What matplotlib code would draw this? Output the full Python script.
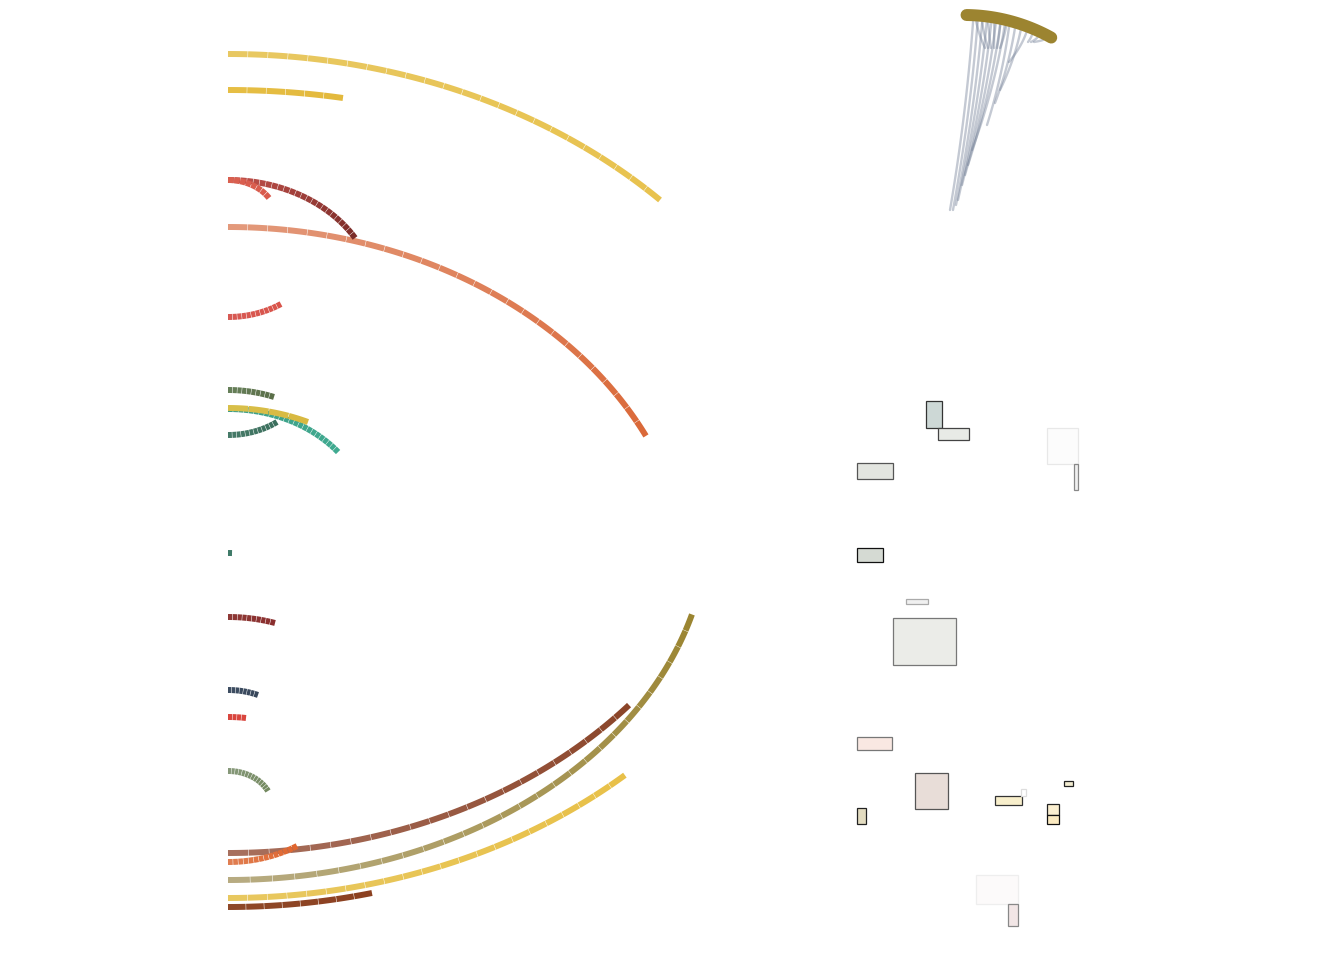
import numpy as np
import matplotlib
matplotlib.use('Agg')
import matplotlib.pyplot as plt
from matplotlib.collections import LineCollection
from matplotlib.patches import Rectangle
from matplotlib.colors import to_rgba

# left arcs: start row, horizontal radius, vertical/horizontal ratio, sweep (deg), bend (+1 down / -1 up)
arc_y0 = [54, 90, 227, 180, 180, 317, 390, 409, 408, 435, 553, 617, 690, 717, 771,
          853, 862, 880, 898, 907]
arc_a = [602.6, 666, 465, 147.6, 48.6, 94.5, 125.5, 139.5, 191.4, 82, 115, 151.3, 75.2,
         130.3, 44.5, 527.4, 129.1, 481, 589.7, 601]
arc_k = [0.8, 0.8, 0.8, 0.8, 0.8, 0.8, 0.8, 0.8, 0.8, 0.8, 0.8, 0.8, 0.8, 0.8, 0.8,
         0.8, 0.8, 0.75, 0.8, 0.8]
arc_sweep = [45.8, 9.94, 64.0, 59.4, 57.5, 34.1, 21.5, 52.1, 24.7, 36.7, 2.0, 18.1, 23.5,
             7.94, 64.0, 49.5, 32.3, 74.7, 42.3, 13.86]
arc_bend = [1, 1, 1, 1, 1, -1, 1, 1, 1, -1, 1, 1, 1, 1, 1, -1, -1, -1, -1, -1]
arc_c0 = ['#E8C862', '#E6BE45', '#E39A7C', '#C4524C', '#D96050', '#D75A54', '#67805A',
          '#3E9E86', '#D8C04A', '#477A68', '#3F7A68', '#8E3A36', '#3E4E62', '#D9463E',
          '#87997A', '#A8705E', '#E07F52', '#B8AC82', '#E8C860', '#8E4828']
arc_c1 = ['#E8C24E', '#E3B93C', '#DA6838', '#7A2C28', '#D95A4C', '#D9544A', '#5A6E48',
          '#3FAA90', '#D8B840', '#3A6E5C', '#3F7A68', '#8A2E2E', '#38465A', '#D9463E',
          '#72885E', '#8A4428', '#E0652E', '#9A8430', '#E8C048', '#8C4020']
arc_nseg = [24, 6, 26, 24, 8, 12, 10, 24, 4, 12, 1, 10, 8, 4, 14, 22, 14, 28, 22, 8]
x0 = 228

# fan (top right)
fan_cx, fan_cy, fan_r = 964, 195, 180
fan_a0, fan_a1 = 0.8, 29.0
fan_start_deg = [3, 4.5, 6, 7.5, 9, 10.5, 12, 13.5, 15, 17, 19, 21, 4, 6, 8, 10, 12, 14,
                 23, 25, 27]
fan_end_x = [950, 953, 956, 958, 962, 965, 968, 972, 987, 995, 1000, 1009, 985, 988, 991,
             994, 997, 1000, 1028, 1031, 1034]
fan_end_y = [210, 210, 205, 200, 185, 175, 165, 150, 125, 103, 90, 62, 48, 48, 48, 48, 48,
             48, 42, 42, 42]

# rectangles on the right
rect_x = [926, 938, 1047, 1074, 857, 857, 906, 893, 857, 915, 857, 995, 1021, 1064, 1047,
          1047, 976, 1008]
rect_y = [401, 428, 428, 464, 463, 548, 599, 618, 737, 773, 808, 796, 789, 781, 804, 815,
          875, 904]
rect_w = [16, 31, 31, 4, 36, 26, 22, 63, 35, 33, 9, 27, 5, 9, 12, 12, 42, 10]
rect_h = [27, 12, 36, 26, 16, 14, 5, 47, 13, 36, 16, 9, 7, 5, 11, 9, 29, 22]
rect_face = ['#CDD8D6', '#E8EAE6', '#FCFCFC', '#F0F0F0', '#E3E5E0', '#D5DAD3', '#F0F0F0',
             '#EBECE8', '#F9E8E2', '#E8DDD8', '#E3DCC0', '#F8EFCC', '#FFFFFF', '#F2ECD0',
             '#FBEFD0', '#FBEAC0', '#FCFAFA', '#F2E6E6']
rect_edge = ['#333333', '#444444', '#E8E8E8', '#888888', '#555555', '#111111', '#AAAAAA',
             '#777777', '#777777', '#555555', '#222222', '#333333', '#DDDDDD', '#222222',
             '#222222', '#111111', '#EEEEEE', '#888888']

fig = plt.figure(figsize=(13.44, 9.6), dpi=100)
ax = fig.add_axes([0, 0, 1, 1])
ax.set_xlim(0, 1344)
ax.set_ylim(960, 0)
ax.axis('off')

gap = 0.5
for y0, a, k, sw, b, c0, c1, n in zip(arc_y0, arc_a, arc_k, arc_sweep, arc_bend,
                                      arc_c0, arc_c1, arc_nseg):
    th = np.radians(sw)
    edges = np.linspace(0, th, n + 1)
    g = gap / a if n > 1 else 0
    segs, cols = [], []
    ca, cb = np.array(to_rgba(c0)), np.array(to_rgba(c1))
    for i in range(n):
        t = np.linspace(edges[i], edges[i + 1] - (g if i < n - 1 else 0), 8)
        xs = x0 + a * np.sin(t)
        ys = y0 + b * k * a * (1 - np.cos(t))
        segs.append(np.column_stack([xs, ys]))
        f = (i + 0.5) / n
        cols.append(ca * (1 - f) + cb * f)
    ax.add_collection(LineCollection(segs, colors=cols, linewidths=4.3, capstyle='butt'))

# fan lines
for ang, ex, ey in zip(fan_start_deg, fan_end_x, fan_end_y):
    ar = np.radians(ang)
    sx = fan_cx + (fan_r - 6) * np.sin(ar)
    sy = fan_cy - (fan_r - 6) * np.cos(ar)
    qx = sx + 0.3 * (ex - sx)
    qy = sy + 0.5 * (ey - sy)
    t = np.linspace(0, 1, 30)
    bx = (1 - t) ** 2 * sx + 2 * (1 - t) * t * qx + t ** 2 * ex
    by = (1 - t) ** 2 * sy + 2 * (1 - t) * t * qy + t ** 2 * ey
    ax.plot(bx, by, color='#738097', alpha=0.42, lw=1.7, solid_capstyle='round')

ta = np.radians(np.linspace(fan_a0, fan_a1, 60))
ax.plot(fan_cx + fan_r * np.sin(ta), fan_cy - fan_r * np.cos(ta), color='#9C8430',
        lw=8.6, solid_capstyle='round')

for x, y, w, h, fc, ec in zip(rect_x, rect_y, rect_w, rect_h, rect_face, rect_edge):
    ax.add_patch(Rectangle((x, y), w, h, facecolor=fc, edgecolor=ec, lw=0.9))

fig.savefig('out.png', dpi=100)
